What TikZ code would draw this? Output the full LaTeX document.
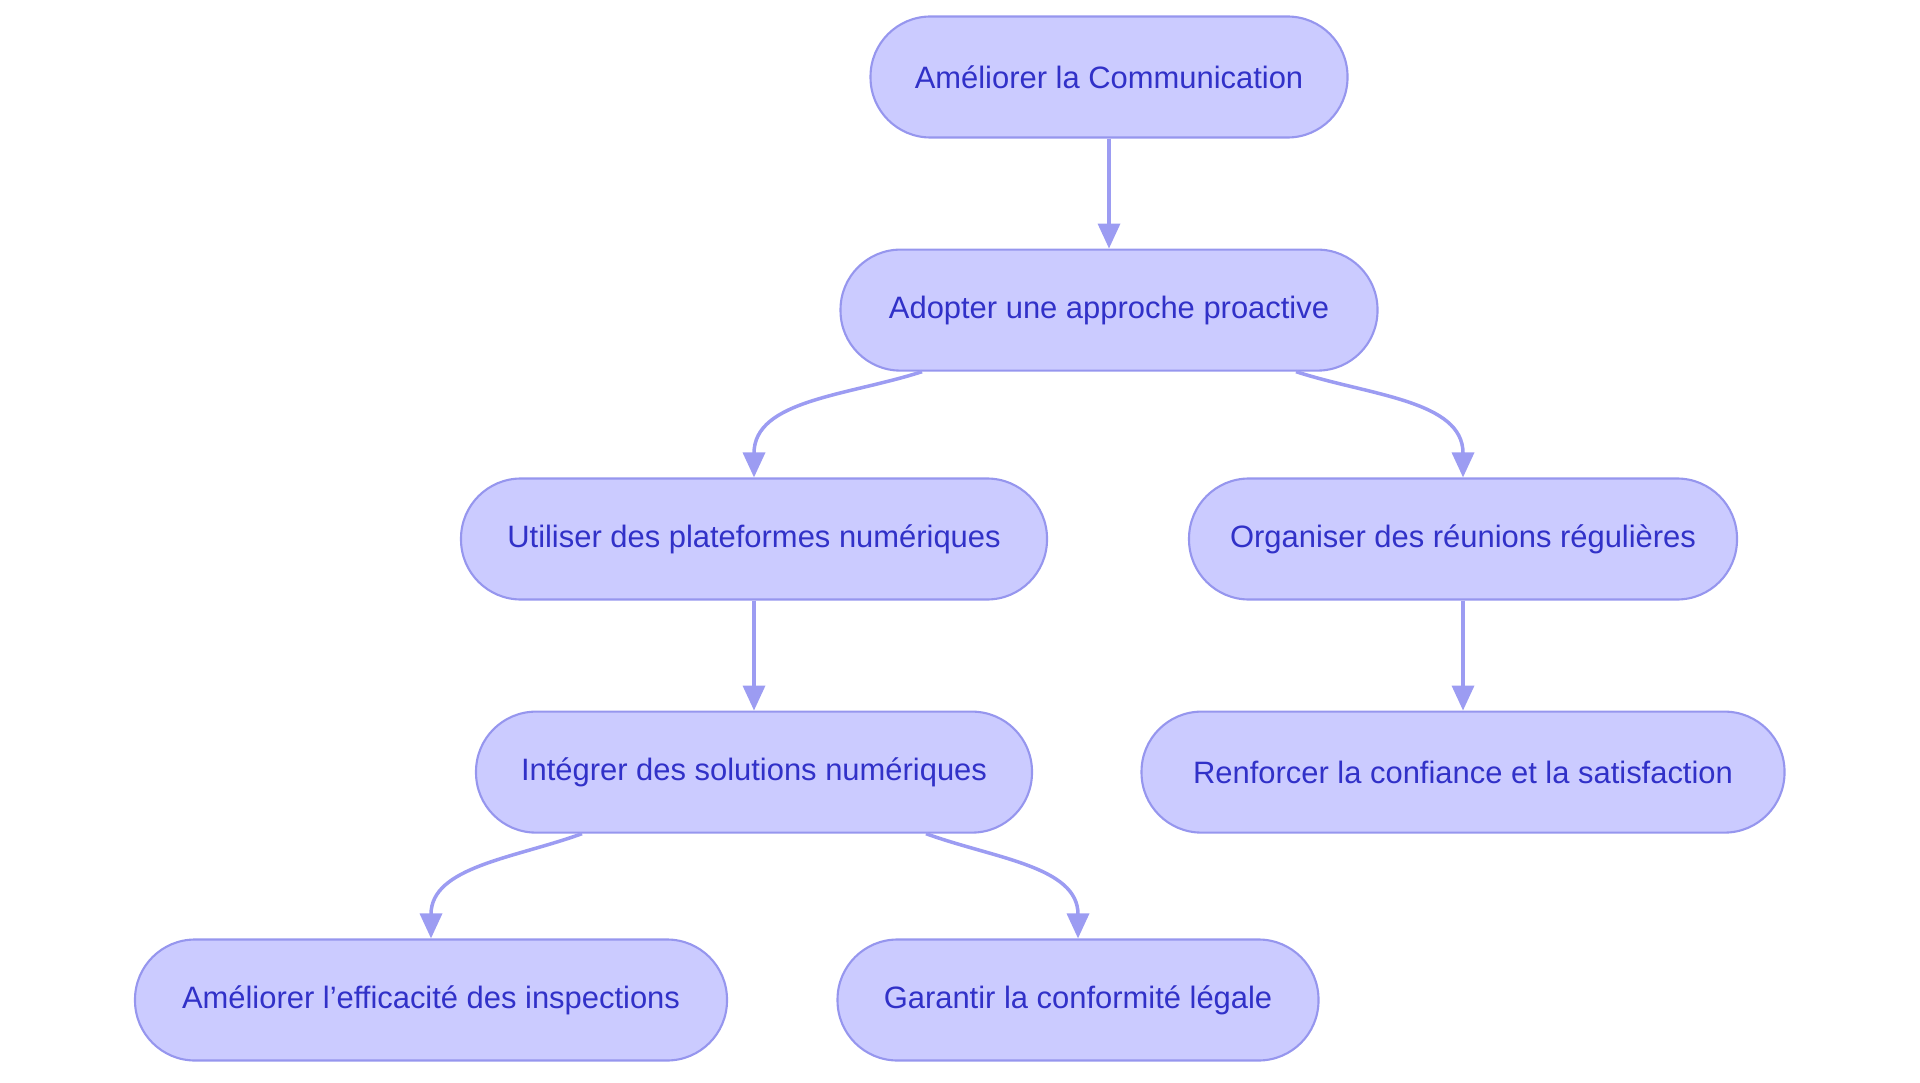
\documentclass[tikz,border=0pt]{standalone}
\usepackage{fontspec}
\setmainfont{Liberation Sans}
\usepackage{tikz}
\usetikzlibrary{arrows.meta, positioning}
\usepackage{xcolor}
\definecolor{pillfill}{HTML}{CBCBFF}
\definecolor{pillline}{HTML}{9696EE}
\definecolor{pilltext}{HTML}{3131C8}
\definecolor{linkcol}{HTML}{9C9CF2}
\tikzstyle{pill}  = [rectangle, rounded corners=0.6cm, minimum height=1.21cm,
                     text centered, draw=pillline, line width=0.6pt, fill=pillfill,
                     text=pilltext, font=\fontsize{8.8}{10}\selectfont]
\tikzstyle{arrow} = [draw=linkcol, line width=1pt,
                     -{Triangle[length=0.25cm, width=0.22cm]}]

\begin{document}
\begin{tikzpicture}[node distance=1.1cm]
  \useasboundingbox (0,0) rectangle (19.2,-10.83);

  % --- top ---
  \node (ameliorer) [pill, minimum width=4.77cm] at (11.09,-0.77)
                    {Améliorer la Communication};
  \node (adopter)   [pill, minimum width=5.37cm, below=of ameliorer]
                    {Adopter une approche proactive};

  % --- left branch ---
  \node (plateformes) [pill, minimum width=5.86cm] at (7.54,-5.39)
                      {Utiliser des plateformes numériques};
  \node (solutions)   [pill, minimum width=5.56cm, below=of plateformes]
                      {Intégrer des solutions numériques};
  \node (efficacite)  [pill, minimum width=5.92cm] at (4.31,-10.0)
                      {Améliorer l’efficacité des inspections};
  \node (conformite)  [pill, minimum width=4.81cm] at (10.78,-10.0)
                      {Garantir la conformité légale};

  % --- right branch ---
  \node (reunions)  [pill, minimum width=5.48cm] at (14.63,-5.39)
                    {Organiser des réunions régulières};
  \node (confiance) [pill, minimum width=6.43cm, below=of reunions]
                    {Renforcer la confiance et la satisfaction};

  % Arrows
  \draw[arrow] (ameliorer) -- (adopter);
  \draw[arrow] ([xshift=-1.87cm]adopter.south) to[out=198, in=90] (plateformes.north);
  \draw[arrow] ([xshift=1.87cm]adopter.south) to[out=-18, in=90] (reunions.north);
  \draw[arrow] (plateformes) -- (solutions);
  \draw[arrow] (reunions) -- (confiance);
  \draw[arrow] ([xshift=-1.72cm]solutions.south) to[out=200, in=90] (efficacite.north);
  \draw[arrow] ([xshift=1.72cm]solutions.south) to[out=-20, in=90] (conformite.north);

\end{tikzpicture}
\end{document}
